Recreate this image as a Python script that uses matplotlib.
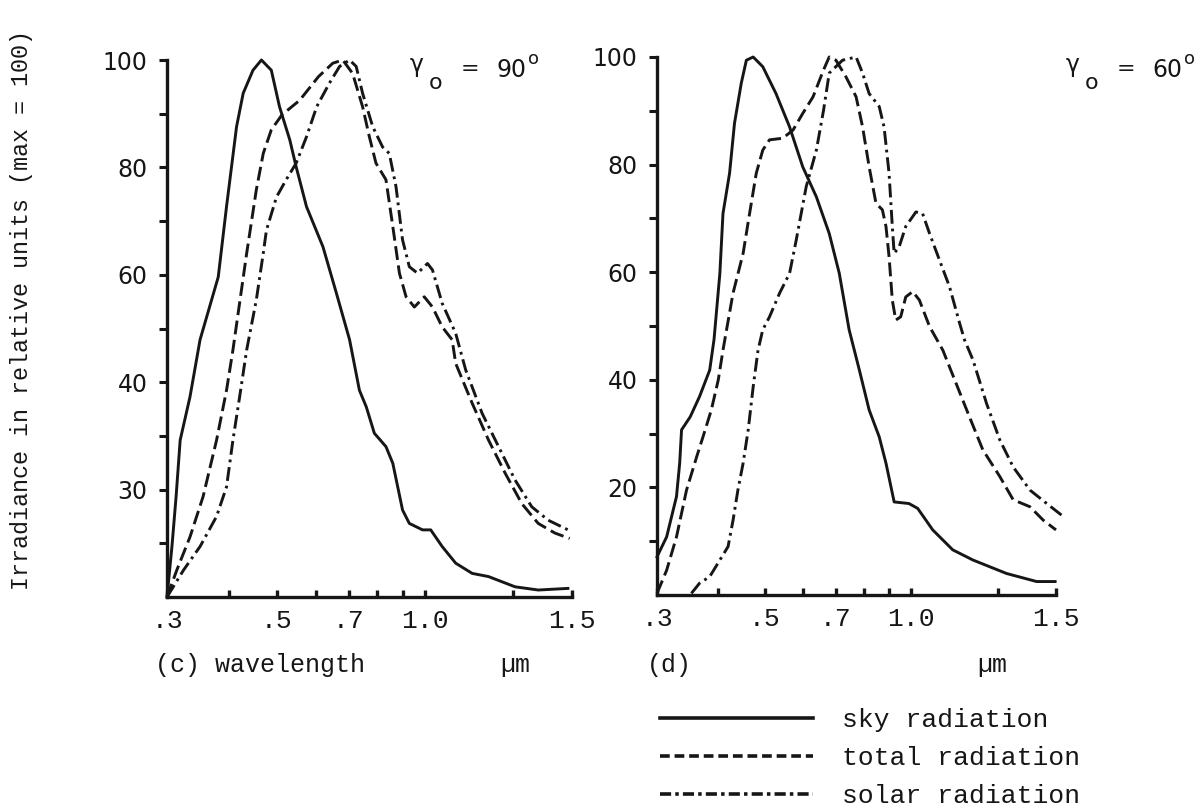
import numpy as np
import matplotlib
matplotlib.use("Agg")
import matplotlib.pyplot as plt
from matplotlib.lines import Line2D

# ---------------- data (wavelength in micrometres, irradiance max = 100) ----------------
# panel (c): gamma_o = 90 deg
c_sky_x = [0.300, 0.307, 0.313, 0.319, 0.334, 0.350, 0.381, 0.396, 0.415, 0.428, 0.448, 0.466,
           0.488, 0.507, 0.532, 0.548, 0.575, 0.621, 0.661, 0.703, 0.736, 0.760, 0.789, 0.833,
           0.860, 0.900, 0.929, 0.988, 1.019, 1.058, 1.104, 1.160, 1.216, 1.306, 1.385, 1.486]
c_sky_y = [0.0, 9.4, 18.7, 29.2, 37.3, 47.9, 59.6, 72.7, 87.6, 93.8, 98.1, 100.0,
           98.1, 91.3, 85.1, 80.1, 72.7, 65.2, 56.6, 47.9, 38.5, 35.4, 30.5, 28.0,
           24.9, 16.2, 13.7, 12.5, 12.5, 9.4, 6.3, 4.4, 3.8, 1.9, 1.3, 1.6]

c_total_x = [0.300, 0.314, 0.334, 0.355, 0.378, 0.396, 0.408, 0.435, 0.455, 0.470, 0.488, 0.513,
             0.557, 0.608, 0.650, 0.681, 0.713, 0.747, 0.771, 0.795, 0.833, 0.860, 0.887, 0.915,
             0.951, 0.996, 1.025, 1.058, 1.092, 1.104, 1.160, 1.216, 1.273, 1.329, 1.385, 1.442, 1.492]
c_total_y = [0.0, 5.0, 11.2, 18.7, 29.2, 38.5, 46.0, 64.0, 75.8, 82.6, 87.0, 89.8,
             92.5, 96.9, 99.4, 100.0, 97.5, 91.3, 85.7, 80.8, 77.7, 69.0, 60.3, 55.9,
             54.0, 55.9, 54.0, 50.3, 47.9, 43.5, 36.1, 29.2, 23.0, 17.4, 13.7, 11.9, 10.9]

c_solar_x = [0.300, 0.324, 0.350, 0.378, 0.396, 0.408, 0.421, 0.435, 0.455, 0.470, 0.477, 0.500,
             0.523, 0.548, 0.575, 0.603, 0.640, 0.671, 0.703, 0.725, 0.747, 0.783, 0.820, 0.846,
             0.873, 0.900, 0.929, 0.965, 1.008, 1.025, 1.058, 1.104, 1.138, 1.194, 1.250, 1.306,
             1.363, 1.419, 1.464, 1.498]
c_solar_y = [0.0, 5.0, 9.4, 15.0, 20.5, 29.2, 37.3, 46.0, 55.3, 64.0, 68.3, 74.5,
             77.7, 80.8, 85.7, 91.3, 95.7, 98.8, 100.0, 98.8, 93.8, 87.6, 83.8, 82.6,
             76.4, 66.5, 61.5, 60.3, 62.1, 60.9, 54.7, 49.1, 42.3, 34.2, 28.0, 21.8,
             16.8, 14.3, 13.1, 12.2]

# panel (d): gamma_o = 60 deg
d_sky_x = [0.300, 0.314, 0.329, 0.334, 0.337, 0.351, 0.367, 0.385, 0.393, 0.404, 0.410, 0.423,
           0.433, 0.447, 0.458, 0.473, 0.495, 0.527, 0.562, 0.598, 0.638, 0.678, 0.711, 0.745,
           0.782, 0.819, 0.859, 0.887, 0.922, 0.989, 1.022, 1.074, 1.143, 1.213, 1.329, 1.433, 1.497]
d_sky_y = [7.1, 10.8, 18.3, 24.5, 30.7, 33.1, 36.9, 41.8, 47.5, 59.8, 70.9, 78.4,
           87.7, 95.1, 99.4, 100.0, 98.2, 93.2, 87.0, 79.6, 74.0, 67.2, 59.8, 49.3,
           41.8, 34.4, 29.4, 24.5, 17.3, 17.0, 16.1, 12.1, 8.4, 6.5, 4.0, 2.5, 2.5]

d_total_x = [0.300, 0.314, 0.329, 0.345, 0.362, 0.373, 0.388, 0.401, 0.410, 0.417, 0.430, 0.451,
             0.465, 0.480, 0.495, 0.511, 0.544, 0.571, 0.598, 0.628, 0.660, 0.678, 0.700, 0.734,
             0.770, 0.794, 0.819, 0.846, 0.872, 0.887, 0.900, 0.914, 0.929, 0.951, 0.974, 1.005,
             1.028, 1.063, 1.109, 1.155, 1.201, 1.247, 1.306, 1.352, 1.410, 1.456, 1.500]
d_total_y = [0.3, 4.6, 10.8, 19.5, 25.7, 29.4, 34.4, 40.0, 45.5, 49.3, 56.1, 63.5,
             70.9, 78.4, 82.7, 84.6, 84.9, 86.4, 89.5, 92.6, 97.6, 100.0, 99.4, 96.3,
             92.6, 87.0, 79.6, 72.8, 71.6, 68.5, 62.9, 54.8, 51.1, 51.7, 55.4, 56.4,
             54.8, 49.9, 45.5, 39.3, 33.1, 27.0, 22.0, 17.7, 16.4, 13.9, 12.1]

d_solar_x = [0.353, 0.367, 0.385, 0.404, 0.420, 0.430, 0.440, 0.451, 0.462, 0.473, 0.484, 0.495,
             0.511, 0.536, 0.562, 0.580, 0.608, 0.638, 0.660, 0.678, 0.722, 0.770, 0.794, 0.819,
             0.859, 0.879, 0.900, 0.914, 0.922, 0.944, 0.974, 1.016, 1.039, 1.063, 1.097, 1.132,
             1.167, 1.184, 1.213, 1.260, 1.306, 1.352, 1.410, 1.468, 1.525]
d_solar_y = [0.3, 2.2, 3.4, 6.5, 9.0, 13.9, 19.5, 24.5, 30.7, 38.7, 45.5, 49.3,
             51.7, 56.1, 59.8, 66.0, 75.9, 82.7, 90.1, 97.0, 99.4, 100.0, 97.0, 93.2,
             90.8, 87.0, 78.4, 68.5, 63.5, 64.7, 68.5, 71.2, 70.9, 67.2, 62.3, 57.3,
             50.5, 47.4, 43.7, 35.6, 28.8, 23.8, 19.5, 17.0, 14.6]

x_major = [0.3, 0.5, 0.7, 1.0, 1.5]
x_major_labels = [".3", ".5", ".7", "1.0", "1.5"]
x_minor = [0.4, 0.6, 0.8, 0.9, 1.3]
y_major = [20, 40, 60, 80, 100]
c_y_labels = ["30", "40", "60", "80", "100"]
d_y_labels = ["20", "40", "60", "80", "100"]
y_minor = [10, 30, 50, 70, 90]

series_names = ["sky radiation", "total radiation", "solar radiation"]
panel_c_note = "(c) wavelength"
panel_d_note = "(d)"
unit_text = "µm"
ylabel_text = "Irradiance in relative units (max = 100)"
angle_c = "90"
angle_d = "60"

# ---------------- styling ----------------
W, H = 1204, 808
INK = "#161616"
MONO = "Liberation Mono"
SANS = "DejaVu Sans"
plt.rcParams["lines.scale_dashes"] = False

fig = plt.figure(figsize=(W / 100, H / 100), dpi=100)
fig.patch.set_facecolor("white")

L0 = np.log(1 / 0.3)
C = 1.37


def fwd(x):
    x = np.asarray(x, dtype=float)
    xl = np.log(np.clip(x, 1e-6, None) / 0.3)
    return np.where(x <= 1.0, xl, L0 + C * (x - 1.0))


def inv(u):
    u = np.asarray(u, dtype=float)
    return np.where(u <= L0, 0.3 * np.exp(np.minimum(u, L0)), 1.0 + (u - L0) / C)


STY = {
    "sky": dict(linestyle="-", lw=2.1),
    "total": dict(linestyle=(0, (10, 4)), lw=2.1),
    "solar": dict(linestyle=(0, (10, 3.5, 2, 3.5)), lw=2.1),
}


def make_panel(rect, data, ylabels):
    ax = fig.add_axes(rect)
    ax.set_xscale("function", functions=(fwd, inv))
    ax.set_xlim(0.3, 1.5)
    ax.set_ylim(0, 100)
    for (xs, ys), key in zip(data, ["sky", "total", "solar"]):
        ax.plot(xs, ys, color=INK, clip_on=False, solid_joinstyle="round", **STY[key])
    for s in ["top", "right"]:
        ax.spines[s].set_visible(False)
    for s in ["left", "bottom"]:
        ax.spines[s].set_linewidth(2.4)
        ax.spines[s].set_color(INK)
    ax.set_xticks(x_major)
    ax.set_xticklabels(x_major_labels, fontfamily=MONO, fontsize=19, color=INK)
    ax.set_xticks(x_minor, minor=True)
    ax.set_xticklabels([], minor=True)
    ax.set_yticks(y_major)
    ax.set_yticklabels(ylabels, fontfamily=SANS, fontsize=17, color=INK)
    ax.set_yticks(y_minor, minor=True)
    ax.tick_params(axis="x", which="both", direction="in", length=5, width=2.4, pad=9, colors=INK)
    ax.tick_params(axis="y", which="both", direction="out", length=6, width=2.2, pad=8, colors=INK)
    ax.patch.set_alpha(0)
    return ax


ax_c = make_panel([167 / W, 1 - 597 / H, 405 / W, 537 / H],
                  [(c_sky_x, c_sky_y), (c_total_x, c_total_y), (c_solar_x, c_solar_y)],
                  c_y_labels)
ax_d = make_panel([657 / W, 1 - 595 / H, 399 / W, 538 / H],
                  [(d_sky_x, d_sky_y), (d_total_x, d_total_y), (d_solar_x, d_solar_y)],
                  d_y_labels)


def px(x, y):
    return x / W, 1 - y / H


def angle_label(x0, angle):
    kw = dict(fontfamily=SANS, color=INK, va="baseline", ha="left")
    fig.text(*px(x0, 72), "γ", fontsize=17, **kw)
    fig.text(*px(x0 + 19, 89), "o", fontsize=16, **kw)
    fig.text(*px(x0 + 51, 75), "=", fontsize=16, **kw)
    fig.text(*px(x0 + 86, 77), angle, fontsize=17, **kw)
    fig.text(*px(x0 + 118, 64), "o", fontsize=13, **kw)


angle_label(410, angle_c)
angle_label(1066, angle_d)

# axis notes
fig.text(*px(22, 310), ylabel_text, rotation=90, fontfamily=MONO, fontsize=16.8,
         ha="center", va="center", color=INK)
fig.text(*px(155, 672), panel_c_note, fontfamily=MONO, fontsize=18,
         ha="left", va="baseline", color=INK)
fig.text(*px(500, 672), unit_text, fontfamily=MONO, fontsize=18,
         ha="left", va="baseline", color=INK)
fig.text(*px(647, 672), panel_d_note, fontfamily=MONO, fontsize=18,
         ha="left", va="baseline", color=INK)
fig.text(*px(977, 672), unit_text, fontfamily=MONO, fontsize=18,
         ha="left", va="baseline", color=INK)

# legend
handles = [
    Line2D([], [], color=INK, lw=2.6, linestyle="-"),
    Line2D([], [], color=INK, lw=2.6, linestyle=(0, (7, 3.5))),
    Line2D([], [], color=INK, lw=2.6, linestyle=(0, (8, 3, 2.5, 3))),
]
leg = fig.legend(handles, series_names, loc="upper left",
                 bbox_to_anchor=px(660, 708), frameon=False,
                 prop={"family": MONO, "size": 19}, handlelength=5.8, handletextpad=1.1,
                 labelspacing=0.53, borderpad=0, borderaxespad=0)
for t in leg.get_texts():
    t.set_color(INK)

fig.savefig("out.png", dpi=100, facecolor="white")
